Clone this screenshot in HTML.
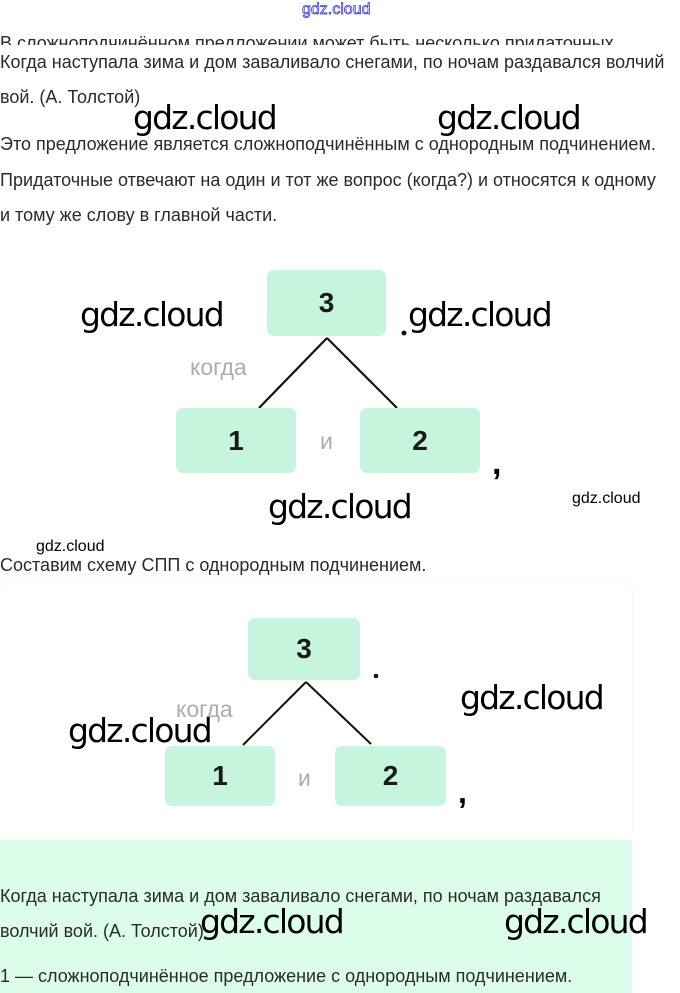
<!DOCTYPE html>
<html><head><meta charset="utf-8"><style>
body{margin:0;width:680px;height:993px;position:relative;background:#fff;overflow:hidden;font-family:"Liberation Sans","DejaVu Sans",sans-serif;}
.a{position:absolute;white-space:nowrap;}
.t{font-size:18px;color:#2a2a2a;letter-spacing:0px;}
.w{font-family:"DejaVu Sans","Liberation Sans",sans-serif;font-size:33px;color:#000;letter-spacing:-1.8px;}
.b{position:absolute;background:#c6f4dc;border-radius:7px;display:flex;align-items:center;justify-content:center;font-size:28px;font-weight:bold;color:#1a1a1a;}
.g{color:#a8adb3;font-size:23px;}
</style></head><body>
<div class="a" style="left:0;top:840px;width:632px;height:153px;background:#dcfde9"></div>
<div class="a" style="left:0;top:583px;width:632px;height:257px;background:#fff;border-radius:8px;box-shadow:0 0 2px #eee"></div>

<div class="a" style="left:302px;top:1px;font-size:16px;color:#fff;-webkit-text-stroke:0.8px #3a3ad0">gdz.cloud</div>
<div class="a t" style="left:0;top:33px;height:12px;overflow:hidden;">В сложноподчинённом предложении может быть несколько придаточных</div>
<div class="a t" style="left:0;top:52px">Когда наступала зима и дом заваливало снегами, по ночам раздавался волчий</div>
<div class="a t" style="left:0;top:87px">вой. (А. Толстой)</div>
<div class="a t" style="left:0;top:134px">Это предложение является сложноподчинённым с однородным подчинением.</div>
<div class="a t" style="left:0;top:170px">Придаточные отвечают на один и тот же вопрос (когда?) и относятся к одному</div>
<div class="a t" style="left:0;top:205px">и тому же слову в главной части.</div>

<svg class="a" style="left:0;top:0" width="680" height="993">
<line x1="327" y1="338" x2="259" y2="408" stroke="#111" stroke-width="2.2"/>
<line x1="327" y1="338" x2="397" y2="408" stroke="#111" stroke-width="2.2"/>
<line x1="306" y1="682" x2="243" y2="745" stroke="#111" stroke-width="2"/>
<line x1="306" y1="682" x2="371" y2="744" stroke="#111" stroke-width="2"/>
<circle cx="404" cy="333" r="2.5" fill="#111"/>
<circle cx="376" cy="676" r="2.3" fill="#111"/>
</svg>
<div class="b" style="left:267px;top:270px;width:119px;height:66px">3</div>
<div class="b" style="left:176px;top:408px;width:120px;height:65px">1</div>
<div class="b" style="left:360px;top:408px;width:120px;height:65px">2</div>
<div class="a g" style="left:190px;top:354px">когда</div>
<div class="a g" style="left:320px;top:428px">и</div>
<div class="a" style="left:492px;top:444px;font-size:34px;font-weight:bold">,</div>

<div class="b" style="left:248px;top:618px;width:112px;height:62px">3</div>
<div class="b" style="left:165px;top:746px;width:110px;height:60px">1</div>
<div class="b" style="left:335px;top:746px;width:111px;height:60px">2</div>
<div class="a g" style="left:176px;top:696px">когда</div>
<div class="a g" style="left:298px;top:765px">и</div>
<div class="a" style="left:458px;top:774px;font-size:32px;font-weight:bold">,</div>

<div class="a t" style="left:0;top:555px">Составим схему СПП с однородным подчинением.</div>
<div class="a t" style="left:0;top:886px">Когда наступала зима и дом заваливало снегами, по ночам раздавался</div>
<div class="a t" style="left:0;top:921px">волчий вой. (А. Толстой)</div>
<div class="a t" style="left:0;top:966px">1 — сложноподчинённое предложение с однородным подчинением.</div>

<div class="a w" style="left:133px;top:98px">gdz.cloud</div>
<div class="a w" style="left:437px;top:98px">gdz.cloud</div>
<div class="a w" style="left:80px;top:295px">gdz.cloud</div>
<div class="a w" style="left:408px;top:295px">gdz.cloud</div>
<div class="a w" style="left:268px;top:487px">gdz.cloud</div>
<div class="a w" style="left:460px;top:678px">gdz.cloud</div>
<div class="a w" style="left:68px;top:711px">gdz.cloud</div>
<div class="a w" style="left:200px;top:902px">gdz.cloud</div>
<div class="a w" style="left:504px;top:902px">gdz.cloud</div>
<div class="a" style="left:572px;top:490px;font-size:16px">gdz.cloud</div>
<div class="a" style="left:36px;top:538px;font-size:16px">gdz.cloud</div>
</body></html>
